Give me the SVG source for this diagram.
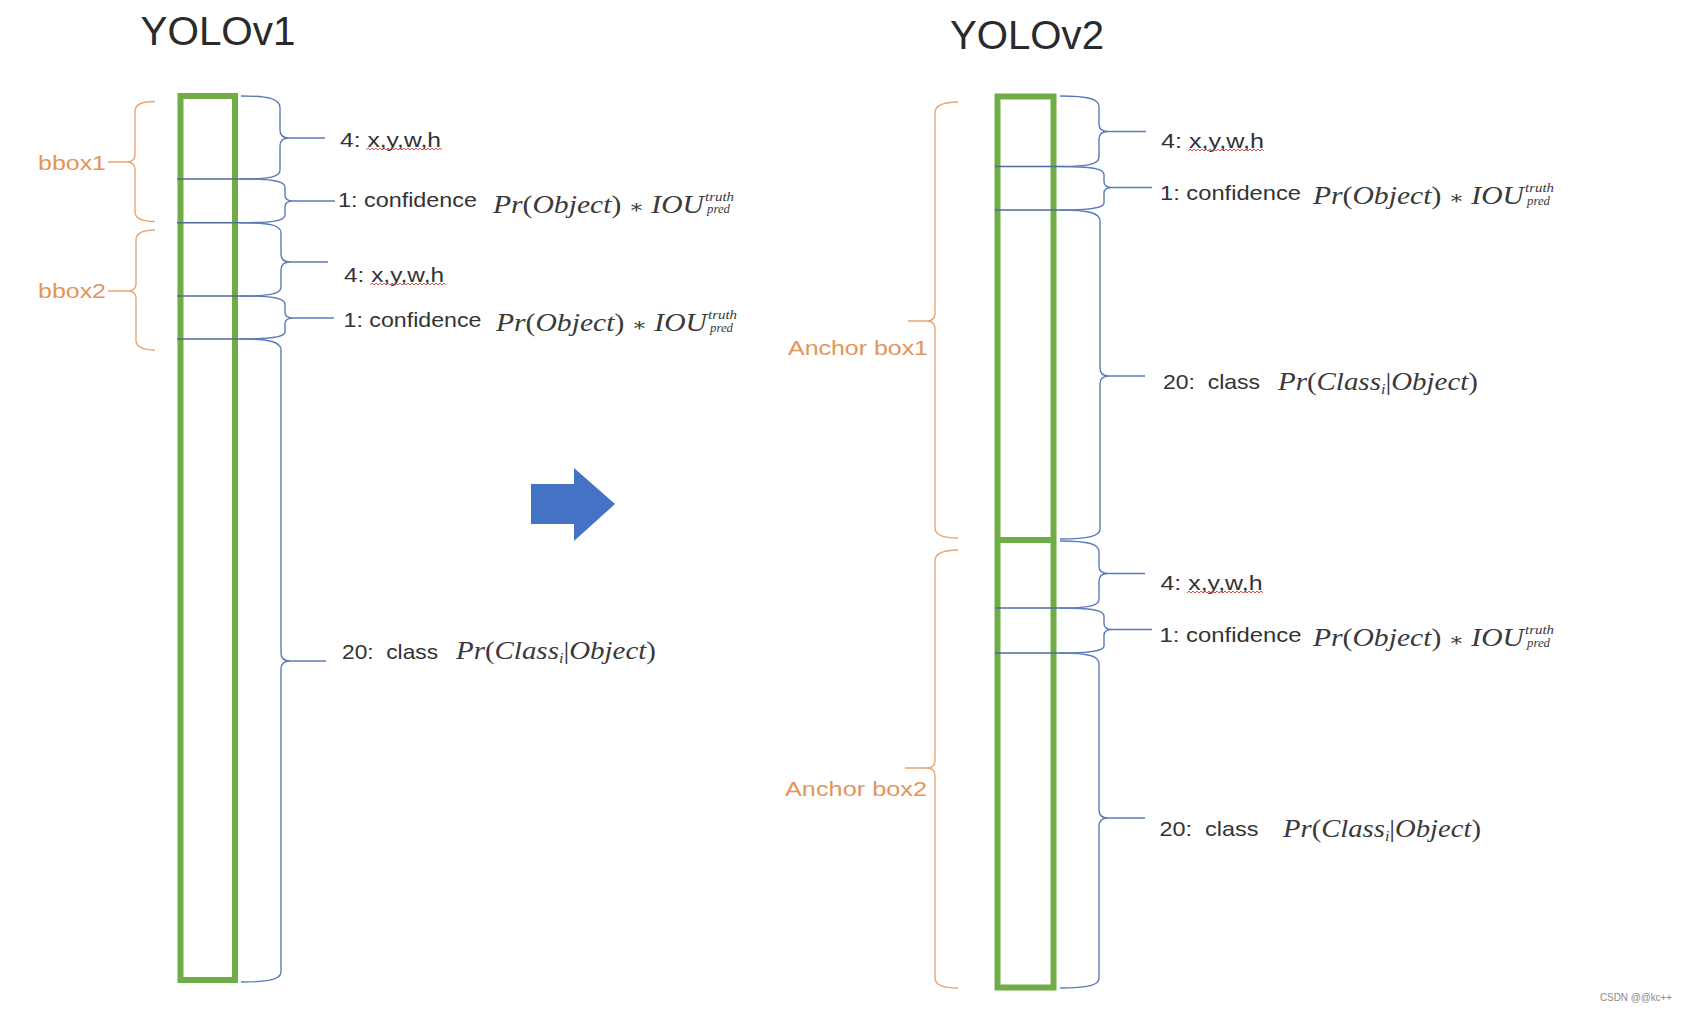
<svg xmlns="http://www.w3.org/2000/svg" xmlns:xlink="http://www.w3.org/1999/xlink" width="1688" height="1010" viewBox="0 0 1688 1010">
<style>
.title{font-family:"Liberation Sans","Open Sans",sans-serif;font-size:40px;fill:#2a2a2a}
.lbl{font-family:"Liberation Sans","Open Sans",sans-serif;font-size:21px;fill:#333333}
.org{font-family:"Liberation Sans","Open Sans",sans-serif;font-size:21px;fill:#E4945A}
.math{font-family:"Liberation Serif","DejaVu Serif",serif;font-size:25px;fill:#3a3a3a}
.sm{font-family:"Liberation Serif","DejaVu Serif",serif;font-size:13px;font-style:italic;fill:#3a3a3a}
.it{font-style:italic}
.op{font-size:19px}
.col{fill:none;stroke:#70AD47;stroke-width:6}
.div{stroke:#4F6B9A;stroke-width:1.4;fill:none}
.bb{fill:none;stroke:#5B7CB6;stroke-width:1.4}
.ob{fill:none;stroke:#E9A672;stroke-width:1.4}
.wave{fill:none;stroke:#D93A3A;stroke-width:0.9}
.wm{font-family:"Liberation Sans",sans-serif;font-size:11px;fill:#8a8a8a}
</style>
<defs>
<path id="wv" class="wave" d="M0,2 l2,-2 2,2 2,-2 2,2 2,-2 2,2 2,-2 2,2 2,-2 2,2 2,-2 2,2 2,-2 2,2 2,-2 2,2 2,-2 2,2 2,-2 2,2 2,-2 2,2 2,-2 2,2 2,-2 2,2 2,-2 2,2 2,-2 2,2 2,-2 2,2 2,-2 2,2 2,-2 2,2 2,-2 2,2"/>
</defs>
<rect width="1688" height="1010" fill="#ffffff"/>

<g id="titles">
<text class="title" x="140.5" y="45" textLength="155" lengthAdjust="spacingAndGlyphs">YOLOv1</text>
<text class="title" x="950" y="48.5" textLength="154" lengthAdjust="spacingAndGlyphs">YOLOv2</text>
</g>

<g id="yolov1-column">
<rect class="col" x="180.5" y="96" width="54.5" height="884"/>
<line class="div" x1="177" y1="179" x2="242" y2="179"/>
<line class="div" x1="177" y1="222.7" x2="242" y2="222.7"/>
<line class="div" x1="177" y1="296" x2="242" y2="296"/>
<line class="div" x1="177" y1="339" x2="242" y2="339"/>
</g>

<g id="yolov2-column">
<rect class="col" x="997.5" y="96.5" width="56" height="891"/>
<line class="col" x1="997.5" y1="540" x2="1053.5" y2="540" stroke-width="6.5"/>
<line class="div" x1="995" y1="166.5" x2="1060" y2="166.5"/>
<line class="div" x1="995" y1="210" x2="1060" y2="210"/>
<line class="div" x1="995" y1="608" x2="1060" y2="608"/>
<line class="div" x1="995" y1="653" x2="1060" y2="653"/>
</g>

<g id="arrow">
<polygon points="531,484 574,484 574,468 615,504 574,541 574,524 531,524" fill="#4472C4"/>
</g>

<g id="connectors">
<path class="bb" d="M241,96 C270,96 280,99 280,108 L280,130 C280,135 283,138 289,138 C283,138 280,141 280,146 L280,170 C280,177 270,179 241,179 M289,138 L325,138"/>
<path class="bb" d="M241,179 C272,179 285,181 285,187 L285,195 C285,199 288,201 293,201 C288,201 285,203 285,207 L285,215 C285,221 272,222.7 241,222.7 M293,201 L335,201"/>
<path class="bb" d="M241,222.7 C270,222.7 281,225 281,233 L281,254 C281,259 284,262 290,262 C284,262 281,265 281,270 L281,287 C281,294 270,296 241,296 M290,262 L328,262"/>
<path class="bb" d="M241,296 C272,296 285,298 285,304 L285,312 C285,316 288,318 293,318 C288,318 285,320 285,324 L285,332 C285,337 272,339 241,339 M293,318 L334,318"/>
<path class="bb" d="M241,339 C270,339 281,342 281,350 L281,653 C281,658 284,661 290,661 C284,661 281,664 281,669 L281,972 C281,979 270,982 241,982 M290,661 L326,661"/>

<path class="bb" d="M1060,96 C1089,96 1099,99 1099,107 L1099,124 C1099,129 1102,131.5 1108,131.5 C1102,131.5 1099,134 1099,139 L1099,157 C1099,164 1089,166.5 1060,166.5 M1108,131.5 L1146,131.5"/>
<path class="bb" d="M1060,166.5 C1091,166.5 1104,168.5 1104,174.5 L1104,181.5 C1104,185.5 1107,187.5 1112,187.5 C1107,187.5 1104,189.5 1104,193.5 L1104,203 C1104,208 1091,210 1060,210 M1112,187.5 L1152,187.5"/>
<path class="bb" d="M1060,210 C1089,210 1100,213 1100,221 L1100,368 C1100,373 1103,376 1109,376 C1103,376 1100,379 1100,384 L1100,529 C1100,536 1089,539 1060,539 M1109,376 L1145,376"/>
<path class="bb" d="M1060,541 C1089,541 1099,544 1099,552 L1099,566 C1099,571 1102,573.5 1108,573.5 C1102,573.5 1099,576 1099,581 L1099,599 C1099,606 1089,608 1060,608 M1108,573.5 L1145,573.5"/>
<path class="bb" d="M1060,608 C1091,608 1104,610 1104,616 L1104,623.5 C1104,627.5 1107,629.5 1112,629.5 C1107,629.5 1104,631.5 1104,635.5 L1104,646 C1104,651 1091,653 1060,653 M1112,629.5 L1152,629.5"/>
<path class="bb" d="M1060,653 C1089,653 1099,656 1099,664 L1099,810 C1099,815 1102,818 1108,818 C1102,818 1099,821 1099,826 L1099,978 C1099,985 1089,988 1060,988 M1108,818 L1145,818"/>

<path class="ob" d="M155,101.5 C142,101.5 135,104 135,112 L135,155 C135,159 132,162 128,162 C132,162 135,165 135,169 L135,212 C135,219 142,221.5 155,221.5 M128,162 L108,162"/>
<path class="ob" d="M155,230 C143,230 136,232.5 136,240 L136,284 C136,288 133,291 129,291 C133,291 136,294 136,298 L136,340 C136,347 143,350 155,350 M129,291 L108,291"/>
<path class="ob" d="M958,102 C944,102 935,105 935,113 L935,313 C935,318 932,321 927,321 C932,321 935,324 935,329 L935,528 C935,535 944,538 958,538 M927,321 L908,321"/>
<path class="ob" d="M958,550 C944,550 935,553 935,561 L935,760 C935,765 932,768 927,768 C932,768 935,771 935,776 L935,978 C935,985 944,988 958,988 M927,768 L905,768"/>
</g>

<g id="group-labels">
<text class="org" x="38" y="170" textLength="68" lengthAdjust="spacingAndGlyphs">bbox1</text>
<text class="org" x="38" y="298" textLength="68" lengthAdjust="spacingAndGlyphs">bbox2</text>
<text class="org" x="788" y="355" textLength="140" lengthAdjust="spacingAndGlyphs">Anchor box1</text>
<text class="org" x="785" y="795.5" textLength="142" lengthAdjust="spacingAndGlyphs">Anchor box2</text>
</g>

<g id="v1-xywh-1">
<text class="lbl" x="340" y="146.5" textLength="101" lengthAdjust="spacingAndGlyphs">4: x,y,w,h</text>
<use xlink:href="#wv" x="366" y="148"/>
</g>
<g id="v1-conf-1">
<text class="lbl" x="338" y="207.3" textLength="139" lengthAdjust="spacingAndGlyphs">1: confidence</text>
<text class="math" x="493" y="212.5" textLength="211" lengthAdjust="spacingAndGlyphs"><tspan class="it">Pr</tspan>(<tspan class="it">Object</tspan>) <tspan class="op">∗</tspan> <tspan class="it">IOU</tspan></text>
<text class="sm" x="705" y="200.5" textLength="29" lengthAdjust="spacingAndGlyphs">truth</text>
<text class="sm" x="707" y="213" textLength="23" lengthAdjust="spacingAndGlyphs">pred</text>
</g>
<g id="v1-xywh-2">
<text class="lbl" x="344" y="281.5" textLength="100" lengthAdjust="spacingAndGlyphs">4: x,y,w,h</text>
<use xlink:href="#wv" x="370" y="283"/>
</g>
<g id="v1-conf-2">
<text class="lbl" x="343.5" y="327" textLength="138" lengthAdjust="spacingAndGlyphs">1: confidence</text>
<text class="math" x="496" y="331" textLength="211" lengthAdjust="spacingAndGlyphs"><tspan class="it">Pr</tspan>(<tspan class="it">Object</tspan>) <tspan class="op">∗</tspan> <tspan class="it">IOU</tspan></text>
<text class="sm" x="708" y="319" textLength="29" lengthAdjust="spacingAndGlyphs">truth</text>
<text class="sm" x="710" y="331.5" textLength="23" lengthAdjust="spacingAndGlyphs">pred</text>
</g>
<g id="v1-class">
<text class="lbl" x="342" y="658.5" textLength="96" lengthAdjust="spacingAndGlyphs">20:&#160; class</text>
<text class="math" x="456" y="659" textLength="200" lengthAdjust="spacingAndGlyphs"><tspan class="it">Pr</tspan>(<tspan class="it">Class</tspan><tspan class="it" font-size="14" dy="4">i</tspan><tspan dy="-4">|</tspan><tspan class="it">Object</tspan>)</text>
</g>

<g id="v2-xywh-1">
<text class="lbl" x="1161" y="147.5" textLength="103" lengthAdjust="spacingAndGlyphs">4: x,y,w,h</text>
<use xlink:href="#wv" x="1188" y="149"/>
</g>
<g id="v2-conf-1">
<text class="lbl" x="1160" y="200" textLength="141" lengthAdjust="spacingAndGlyphs">1: confidence</text>
<text class="math" x="1313" y="204" textLength="211" lengthAdjust="spacingAndGlyphs"><tspan class="it">Pr</tspan>(<tspan class="it">Object</tspan>) <tspan class="op">∗</tspan> <tspan class="it">IOU</tspan></text>
<text class="sm" x="1525" y="192" textLength="29" lengthAdjust="spacingAndGlyphs">truth</text>
<text class="sm" x="1527" y="204.5" textLength="23" lengthAdjust="spacingAndGlyphs">pred</text>
</g>
<g id="v2-class-1">
<text class="lbl" x="1163" y="389" textLength="97" lengthAdjust="spacingAndGlyphs">20:&#160; class</text>
<text class="math" x="1278" y="390" textLength="200" lengthAdjust="spacingAndGlyphs"><tspan class="it">Pr</tspan>(<tspan class="it">Class</tspan><tspan class="it" font-size="14" dy="4">i</tspan><tspan dy="-4">|</tspan><tspan class="it">Object</tspan>)</text>
</g>
<g id="v2-xywh-2">
<text class="lbl" x="1160.5" y="589.5" textLength="102" lengthAdjust="spacingAndGlyphs">4: x,y,w,h</text>
<use xlink:href="#wv" x="1187" y="591"/>
</g>
<g id="v2-conf-2">
<text class="lbl" x="1159.5" y="642" textLength="142" lengthAdjust="spacingAndGlyphs">1: confidence</text>
<text class="math" x="1313" y="646" textLength="211" lengthAdjust="spacingAndGlyphs"><tspan class="it">Pr</tspan>(<tspan class="it">Object</tspan>) <tspan class="op">∗</tspan> <tspan class="it">IOU</tspan></text>
<text class="sm" x="1525" y="634" textLength="29" lengthAdjust="spacingAndGlyphs">truth</text>
<text class="sm" x="1527" y="646.5" textLength="23" lengthAdjust="spacingAndGlyphs">pred</text>
</g>
<g id="v2-class-2">
<text class="lbl" x="1159.5" y="836" textLength="99" lengthAdjust="spacingAndGlyphs">20:&#160; class</text>
<text class="math" x="1283" y="837" textLength="198" lengthAdjust="spacingAndGlyphs"><tspan class="it">Pr</tspan>(<tspan class="it">Class</tspan><tspan class="it" font-size="14" dy="4">i</tspan><tspan dy="-4">|</tspan><tspan class="it">Object</tspan>)</text>
</g>

<text class="wm" x="1600" y="1001" textLength="72" lengthAdjust="spacingAndGlyphs">CSDN @@kc++</text>
</svg>
